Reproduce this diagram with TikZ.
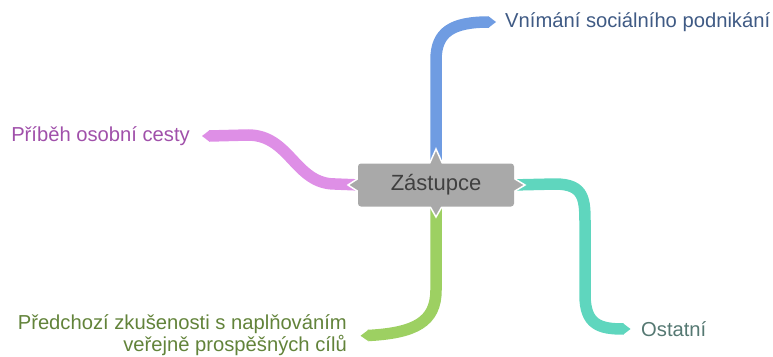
\documentclass[tikz,border=0pt]{standalone}
\usepackage{fontspec}
\setmainfont{Liberation Sans}
\definecolor{cblue}{HTML}{6F9CE2}
\definecolor{cpink}{HTML}{DE8FE6}
\definecolor{cgreen}{HTML}{9DD062}
\definecolor{cteal}{HTML}{5FD6BE}
\definecolor{tblue}{HTML}{3F5A84}
\definecolor{tpink}{HTML}{A050AA}
\definecolor{tgreen}{HTML}{62833A}
\definecolor{tteal}{HTML}{557872}
\definecolor{cbox}{HTML}{A9A9A9}
\definecolor{tbox}{HTML}{404040}
\begin{document}
\begin{tikzpicture}[x=1pt,y=-1pt,
  ribbon/.style={line width=11.5pt, line cap=butt},
  leaf/.style={font=\fontsize{20.2}{22}\selectfont, inner sep=0pt},
  box/.style={fill=cbox, rounded corners=3pt, minimum width=156pt, minimum height=43pt, inner sep=0pt, text=tbox, font=\fontsize{22}{24}\selectfont},
  tip/.style={fill=cbox, draw=white, line width=1.5pt, line join=miter}]
\useasboundingbox (0,0) rectangle (773,356);
% leaves
\node[leaf, text=tblue, anchor=west] (v) at (505,22) {Vnímání sociálního podnikání};
\node[leaf, text=tpink, anchor=east] (p) at (190,136) {Příběh osobní cesty};
\node[leaf, text=tgreen, anchor=east, align=right] (g) at (347,335) {Předchozí zkušenosti s naplňováním\\veřejně prospěšných cílů};
\node[leaf, text=tteal, anchor=west] (o) at (641,329) {Ostatní};
% center coordinate
\coordinate (c) at (436,185);
% ribbon ends (named)
\coordinate (ve) at ([xshift=-16pt]v.west);
\coordinate (pe) at ([xshift=19pt]p.east);
\coordinate (ge) at ([xshift=21pt,yshift=-0.5pt]g.east);
\coordinate (oe) at ([xshift=-17.5pt]o.west);
% ribbons
\draw[ribbon, cblue] (c) ++(0,-25) -- (436,60) .. controls (436,32) and (452,22) .. (ve);
\draw[ribbon, cpink] (c) ++(-76,0) -- (335,184) .. controls (295,184) and (290,135) .. (248,135) -- (pe);
\draw[ribbon, cgreen] (c) ++(0,20) -- (436,290) .. controls (436,322) and (415,333) .. (ge);
\draw[ribbon, cteal] (c) ++(76,0) -- (555,184) .. controls (585,184) and (585,200) .. (585,225) -- (585,295) .. controls (585,325) and (600,329) .. (oe);
% pointed ends
\fill[cblue] ([shift={(-0.5,-5.75)}]ve) -- ++(7.5,5.75) -- ++(-7.5,5.75) -- cycle;
\fill[cpink] ([shift={(0.5,-5.75)}]pe) -- ++(-7.5,5.75) -- ++(7.5,5.75) -- cycle;
\fill[cgreen] ([shift={(0.5,-5.75)}]ge) -- ++(-8,6) -- ++(8,5.5) -- cycle;
\fill[cteal] ([shift={(-0.5,-5.75)}]oe) -- ++(7.5,5.75) -- ++(-7.5,5.75) -- cycle;
% tips of the box
\filldraw[tip] (428,167) -- (436,149) -- (444,167) -- cycle;
\filldraw[tip] (428,203) -- (436,217) -- (444,203) -- cycle;
\filldraw[tip] (362,176) -- (348,185) -- (362,194) -- cycle;
\filldraw[tip] (510,176) -- (525,185) -- (510,194) -- cycle;
% box
\node[box] (z) at (c) {Zástupce};
\end{tikzpicture}
\end{document}
